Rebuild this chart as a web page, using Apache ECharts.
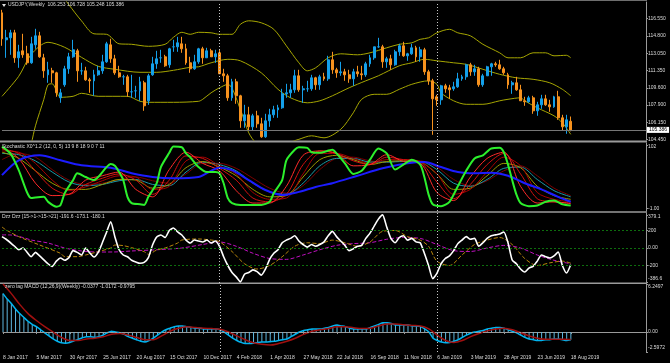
<!DOCTYPE html>
<html><head><meta charset="utf-8">
<script src="https://cdn.jsdelivr.net/npm/echarts@6/dist/echarts.min.js"></script>
<style>html,body{margin:0;padding:0;background:#000;}#c{width:670px;height:363px;}</style>
</head><body><div id="c"></div>
<script>
// ---------- weekly USDJPY candles (index 0 = week of 8 Jan 2017) ----------
const opens = [117.1,114.4,114.6,115.1,112.6,113.3,113.0,112.1,113.9,114.8,112.6,110.9,111.3,111.1,108.6,109.9,111.5,112.7,113.3,111.3,111.3,110.4,110.3,110.9,111.3,112.2,113.9,112.5,111.1,110.7,110.7,109.2,109.3,109.3,110.1,108.3,110.9,112.0,112.6,112.7,111.9,113.7,113.7,114.0,113.5,112.1,111.5,112.2,113.5,112.6,113.3,112.7,113.1,111.0,110.8,108.6,110.2,108.8,106.3,106.9,105.7,106.8,106.0,104.7,106.3,106.9,107.4,107.6,109.0,109.1,109.4,110.8,109.4,109.5,109.5,110.6,109.9,110.7,110.5,112.4,111.4,111.1,111.2,110.9,110.5,111.2,111.0,110.9,112.0,112.6,113.7,113.7,112.2,112.5,111.9,113.2,113.8,112.8,113.0,113.6,112.7,113.4,111.2,110.3,108.7,108.4,109.8,109.6,109.5,109.7,110.5,110.7,111.9,111.2,111.5,109.9,110.8,111.7,112.0,111.9,111.5,110.9,109.9,110.1,109.4,108.3,108.2,108.6,107.3,107.9,108.5,107.9,107.7,108.7,106.6,105.7,106.253];
const highs = [117.4,115.4,115.4,115.4,113.9,115.0,113.8,114.7,115.5,115.2,113.0,112.2,111.6,111.2,109.5,111.8,113.1,114.4,113.5,112.1,111.7,110.6,111.4,111.8,112.9,114.2,114.5,112.9,111.8,110.9,110.9,110.9,109.8,110.7,110.3,111.0,112.7,113.3,113.4,112.9,113.6,114.4,114.7,114.7,114.0,112.7,112.9,113.6,113.7,113.6,113.5,113.4,113.4,111.5,111.0,110.5,110.5,108.9,107.9,107.7,107.0,107.3,106.6,107.0,107.5,107.8,107.9,109.5,110.0,110.0,111.4,111.4,109.8,110.3,110.9,110.7,110.9,111.1,112.8,113.2,111.6,112.2,111.5,111.4,111.5,111.8,111.8,112.2,112.9,113.7,114.6,113.9,112.7,112.9,113.4,114.0,114.2,113.1,114.0,113.8,113.7,113.6,111.4,110.5,108.9,109.9,110.0,109.9,110.2,111.1,110.9,112.0,112.1,111.9,111.7,111.0,111.8,112.1,112.2,112.4,111.7,111.1,110.3,110.7,109.9,108.7,108.8,108.8,108.2,108.9,108.9,108.4,108.8,109.3,106.9,106.9,106.728];
const lows = [113.8,112.6,112.9,112.1,111.6,112.6,111.9,112.0,113.5,112.6,110.6,110.1,110.1,108.7,108.1,109.7,111.0,112.6,110.2,110.9,110.3,109.1,108.8,110.8,111.0,112.1,112.1,110.9,110.6,109.9,108.7,108.6,108.6,108.3,107.3,107.9,110.8,111.5,112.1,111.7,111.6,113.2,113.2,113.1,111.9,111.1,111.4,112.0,112.0,112.6,112.8,112.1,111.0,110.2,108.3,108.3,108.0,105.6,105.6,105.3,105.3,105.6,104.6,104.6,105.7,106.6,106.6,107.5,108.6,108.6,109.1,109.2,108.1,109.2,109.3,109.4,109.4,110.3,110.3,111.0,110.6,110.8,110.3,110.1,109.8,110.7,110.4,110.7,111.7,112.4,113.6,111.6,111.6,111.4,111.8,112.8,112.7,112.3,112.9,112.2,112.2,110.9,109.9,104.9,107.8,107.9,109.1,108.5,109.3,109.6,110.3,110.4,110.8,110.8,109.7,109.7,110.8,110.8,111.7,111.4,110.9,109.5,109.0,109.3,108.3,107.8,108.1,107.0,106.8,107.5,107.8,107.2,107.6,106.4,105.3,105.0,105.248];
const closes = [114.5,114.6,115.1,112.6,113.2,112.9,112.1,114.0,114.8,112.7,111.3,111.4,111.1,109.1,109.1,111.5,112.7,113.4,111.3,111.3,110.4,110.3,110.9,111.3,112.2,114.0,112.5,111.1,110.7,110.7,109.2,109.2,109.3,110.2,107.8,110.8,112.0,112.5,112.6,111.8,113.5,113.7,114.1,113.5,112.1,111.5,112.2,113.5,112.6,113.3,112.7,113.0,111.0,110.8,108.6,110.2,108.8,106.3,106.9,105.7,106.8,106.0,104.7,106.3,106.9,107.4,107.6,109.0,109.1,109.4,110.8,109.4,109.5,109.5,110.6,109.9,110.7,110.5,112.4,111.4,111.1,111.2,110.9,110.5,111.2,111.0,110.9,112.0,112.6,113.7,113.7,112.2,112.5,111.9,113.2,113.8,112.8,113.0,113.6,112.7,113.4,111.2,110.3,108.5,108.4,109.8,109.5,109.4,109.7,110.5,110.7,111.9,111.2,111.5,109.9,110.8,111.7,112.0,111.9,111.5,111.1,109.9,110.1,109.4,108.3,108.2,108.6,107.3,107.9,108.5,107.9,107.7,108.7,106.6,105.7,106.4,105.386];
const lastPrice = 105.386;

// x-axis tick labels (every 8 weeks)
const tickLabels = ['8 Jan 2017','5 Mar 2017','30 Apr 2017','25 Jun 2017','20 Aug 2017','15 Oct 2017','10 Dec 2017','4 Feb 2018','1 Apr 2018','27 May 2018','22 Jul 2018','16 Sep 2018','11 Nov 2018','6 Jan 2019','3 Mar 2019','28 Apr 2019','23 Jun 2019','18 Aug 2019'];
const yearSeparators = [52, 104];

// right-axis tick values
const priceTicks = [116.55,114.8,113.05,111.35,109.6,107.9,106.15,104.45];
const stochTicks = [102,-1];
const dzzTicks = [379.1,200,0,-200,-386.6];
const macdTicks = [6.2497,0,-2.5972];

// ---------- Bollinger bands ([bar, value]) ----------
const bbUpper = [[0,123.5],[5,122.3],[10,120.6],[14,119.0],[16,117.9],[19,116.3],[22,115.0],[25,114.95],[28,114.0],[31,113.95],[35,113.75],[39,113.95],[41,114.65],[43,115.15],[45,114.95],[47,115.15],[50,115.1],[52,114.95],[55,114.95],[57,115.95],[59,116.3],[62,116.1],[65,115.45],[68,113.8],[71,112.1],[73,111.3],[75,111.6],[78,112.6],[81,113.0],[85,112.9],[88,113.1],[92,113.6],[95,113.95],[98,114.1],[100,114.45],[102,114.6],[104,115.1],[107,115.45],[109,115.1],[112,114.8],[115,113.95],[119,113.1],[121,112.6],[124,112.6],[127,113.1],[130,113.1],[132,112.8],[135,112.85],[136,112.6]];
const bbMiddle = [[0,108.75],[4,110.75],[7,112.95],[11,114.15],[15,113.65],[19,112.65],[23,111.75],[27,111.45],[33,111.15],[37,111.15],[41,111.35],[45,111.65],[47,111.7],[50,112.1],[54,112.45],[57,112.3],[62,111.1],[66,109.45],[69,108.6],[73,108.1],[76,108.3],[79,108.8],[83,109.6],[87,110.3],[90,110.8],[95,111.8],[98,112.1],[101,112.45],[104,112.3],[108,112.1],[111,111.95],[115,111.45],[119,110.95],[123,110.6],[127,110.45],[131,110.1],[134,109.45],[136,108.8]];
const bbLower = [[0,96.5],[4,99.8],[6,102.5],[7,104.0],[8,105.8],[10,108.45],[11,109.9],[12,110.0],[14,108.65],[17,108.75],[19,109.05],[23,108.75],[30,108.75],[33,108.25],[35,108.15],[41,108.15],[47,108.25],[48,108.45],[50,109.1],[52,109.6],[54,109.95],[57,107.45],[59,105.1],[61,104.0],[64,103.5],[67,103.9],[71,104.45],[74,104.8],[77,104.6],[81,105.45],[84,107.1],[86,108.45],[89,108.95],[92,108.95],[95,109.45],[98,109.95],[102,110.3],[104,109.95],[105,109.1],[108,108.3],[111,107.95],[115,107.95],[119,108.3],[121,108.45],[124,108.6],[125,108.3],[128,107.6],[132,106.8],[134,106.1],[136,104.95]];

// ---------- Stochastic X lines ----------
const stochFast = [[0,99],[2,88],[4,61],[6,25],[7,16],[8,17],[10,18],[11,10],[13,2],[14,5],[15,24],[17,45],[18,56],[20,50],[22,45],[23,50],[25,66],[26,71],[27,68],[28,58],[29,45],[30,18],[31,8],[33,6],[34,5],[35,18],[37,40],[38,66],[40,89],[41,99],[43,98],[44,88],[45,82],[47,66],[49,58],[51,58],[52,56],[53,40],[54,16],[55,8],[57,5],[60,5],[62,5],[64,10],[65,24],[67,45],[68,77],[70,94],[71,98],[73,97],[74,90],[76,89],[79,94],[80,88],[82,72],[84,55],[86,60],[88,78],[90,96],[92,88],[94,62],[96,70],[98,78],[100,70],[101,50],[102,22],[103,6],[105,3],[107,10],[109,35],[111,60],[113,80],[115,85],[117,96],[119,97],[120,90],[121,70],[122,45],[123,22],[124,8],[126,3],[128,4],[130,10],[132,12],[134,6],[136,4]];
const stochSlow = [[0,53],[4,77],[9,85],[14,77],[19,69],[26,65],[31,56],[36,50],[41,48],[47,50],[52,65],[55,61],[59,45],[63,29],[67,21],[71,26],[75,34],[79,40],[85,52],[91,64],[97,72],[101,74],[105,66],[109,58],[113,56],[117,57],[121,52],[125,40],[129,30],[133,18],[136,10]];
// intermediate lines, one value every 4 bars (bars 0,4,...,136)
const stochRed1  = [97,80,40,20,22,45,52,58,30,18,62,90,72,60,28,8,8,35,85,92,88,68,70,86,75,72,25,12,50,80,90,35,8,10,7];
const stochRed2  = [95,88,60,32,22,38,48,55,45,22,45,84,80,64,45,16,10,22,70,92,88,76,70,82,78,74,42,15,38,70,88,55,15,10,8];
const stochRed3  = [92,90,72,45,28,34,44,52,50,30,35,76,82,68,55,25,14,16,55,88,88,80,72,78,78,75,55,22,30,58,82,68,25,14,10];
const stochRed4  = [78,88,82,62,45,38,40,46,50,44,40,55,72,72,64,48,32,24,36,62,80,82,76,74,76,76,66,46,36,44,60,68,52,32,20];
const stochOlive = [90,80,60,40,30,30,38,46,45,32,38,65,75,66,52,30,18,20,50,78,85,78,70,75,76,74,55,30,32,52,72,65,35,20,14];
const stochTeal  = [88,86,76,58,42,36,38,44,46,38,36,58,74,70,60,40,26,22,40,68,80,80,74,74,75,75,62,40,35,46,64,66,46,28,18];

// ---------- Dzz panel ----------
const dzzMain = [[0,130],[1,100],[3,20],[4,-20],[5,0],[7,-100],[8,-50],[9,-90],[11,-180],[12,-210],[13,-150],[14,-114],[15,-140],[16,-110],[17,-30],[18,-50],[19,-80],[20,0],[21,-57],[22,-103],[23,-50],[24,60],[25,180],[26,300],[27,126],[28,-20],[29,-80],[30,-100],[31,-140],[32,-160],[33,-175],[34,-165],[35,-110],[36,34],[37,126],[38,149],[39,120],[40,200],[41,229],[42,183],[43,149],[44,90],[45,57],[46,91],[47,80],[48,69],[49,91],[50,57],[51,80],[52,20],[53,-100],[54,-200],[55,-280],[56,-330],[57,-386.6],[58,-300],[59,-280],[60,-250],[61,-270],[62,-310],[63,-240],[64,-130],[65,-60],[66,-20],[67,60],[68,90],[69,110],[70,140],[71,80],[72,40],[73,10],[74,40],[75,20],[76,40],[77,70],[78,140],[79,190],[80,130],[81,80],[82,30],[83,-30],[84,-10],[85,20],[86,30],[87,110],[88,170],[89,250],[90,330],[91,379.1],[92,240],[93,110],[94,60],[95,120],[96,140],[97,90],[98,110],[99,70],[100,60],[101,-60],[102,-200],[103,-350],[104,-290],[105,-180],[106,-120],[107,-90],[108,-30],[109,50],[110,90],[111,130],[112,100],[113,110],[114,20],[115,60],[116,110],[117,140],[118,150],[119,160],[120,183],[121,60],[122,-137],[123,-180],[124,-240],[125,-274],[126,-230],[127,-210],[128,-150],[129,-80],[130,-100],[131,-114],[132,-90],[133,-46],[134,-200],[135,-286],[136,-191.6]];
const dzzMid = [[0,240],[1,206],[4,130],[9,34],[14,-61],[15,-99],[18,-99],[20,-80],[23,-42],[26,0],[27,34],[29,27],[31,4],[34,-42],[35,-72],[37,-23],[39,0],[42,57],[43,91],[47,103],[50,91],[52,72],[55,-40],[58,-180],[61,-240],[64,-200],[67,-100],[70,20],[73,60],[76,50],[79,90],[82,60],[85,20],[88,70],[91,190],[94,200],[97,130],[100,90],[102,20],[104,-150],[107,-200],[110,-80],[113,40],[116,90],[119,120],[122,40],[125,-120],[128,-200],[131,-170],[134,-150],[136,-173.1]];
const dzzSlow = [[0,150],[2,149],[5,120],[7,91],[11,57],[15,0],[19,-34],[23,-46],[27,-45],[31,-34],[37,-20],[43,0],[48,40],[52,69],[56,20],[60,-60],[64,-120],[68,-130],[72,-80],[76,-20],[80,30],[84,50],[88,60],[92,100],[96,120],[100,110],[104,40],[108,-30],[112,-40],[116,0],[120,30],[124,0],[128,-80],[132,-140],[136,-180.1]];
const dzzLevels = [200, 0, -200];

// ---------- zero lag MACD ----------
const macdMain = [5.0,4.3,3.7,3.0,2.4,1.9,1.4,1.0,0.7,0.3,-0.1,
 -0.5,-0.9,-1.2,-1.4,-1.45,-1.35,-1.15,-0.95,-0.75,-0.6,
 -0.6,-0.7,-0.6,-0.4,-0.1,0.1,0.0,-0.1,-0.3,-0.6,
 -0.8,-1.0,-1.2,-1.3,-1.1,-0.8,-0.4,0.0,0.3,0.5,
 0.7,0.8,0.8,0.7,0.6,0.5,0.5,0.4,0.4,0.4,
 0.4,0.3,0.0,-0.4,-0.8,-1.1,-1.35,-1.5,-1.5,-1.45,
 -1.35,-1.3,-1.3,-1.25,-1.2,-1.1,-1.0,-0.9,-0.6,-0.3,
 0.0,0.2,0.3,0.4,0.4,0.4,0.5,0.6,0.8,0.9,
 0.8,0.7,0.5,0.4,0.4,0.4,0.4,0.6,0.8,1.0,
 1.2,1.2,1.1,0.9,0.9,0.9,0.9,0.8,0.8,0.7,
 0.4,0.0,-0.8,-1.1,-1.3,-1.4,-1.35,-1.2,-1.0,-0.7,
 -0.4,-0.15,0.0,0.1,0.2,0.4,0.5,0.6,0.6,0.5,
 0.3,0.1,-0.1,-0.4,-0.7,-0.9,-1.0,-1.1,-1.1,-1.0,
 -1.0,-0.9,-0.9,-1.0,-1.1,-1.0172];
const macdSignal = [[0,6.2497],[2,5.0],[4,3.6],[6,2.4],[8,1.5],[10,0.7],[12,0.0],[14,-0.7],[16,-1.1],[18,-1.1],[20,-0.9],[22,-0.8],[24,-0.6],[26,-0.3],[28,-0.2],[30,-0.4],[32,-0.7],[34,-1.0],[36,-1.0],[38,-0.5],[40,0.1],[42,0.5],[44,0.7],[46,0.6],[48,0.5],[50,0.45],[52,0.35],[54,0.0],[56,-0.5],[58,-1.0],[60,-1.4],[62,-1.6],[64,-1.7],[66,-1.5],[68,-1.2],[70,-0.8],[72,-0.3],[74,0.1],[76,0.3],[78,0.45],[80,0.7],[82,0.7],[84,0.55],[86,0.45],[88,0.5],[90,0.8],[92,1.05],[94,1.05],[96,0.95],[98,0.85],[100,0.8],[102,0.4],[104,-0.4],[106,-1.1],[108,-1.35],[110,-1.1],[112,-0.6],[114,-0.2],[116,0.15],[118,0.4],[120,0.5],[122,0.3],[124,-0.1],[126,-0.5],[128,-0.8],[130,-0.95],[132,-0.95],[134,-0.95],[136,-0.9795]];

// ---------- build chart ----------
const N = 155; // bar slots incl. right-hand chart shift
const cats = Array.from({length: N}, (_, i) => String(i));
const FONT = 'Liberation Sans';
const LBL = '#dcdcdc';
const AX = '#9a9a9a';
const FS = 5;
const every4 = vals => vals.map((v, i) => [i * 4, v]);
const tickShown = i => i % 8 === 0 && i <= 136;

const grids = [
  {left: 2, right: 24, top: 2, height: 138},
  {left: 2, right: 24, top: 143, height: 68},
  {left: 2, right: 24, top: 213, height: 70},
  {left: 2, right: 24, top: 284, height: 68}
];
const xAxes = grids.map((g, i) => ({
  type: 'category', gridIndex: i, data: cats, boundaryGap: false,
  axisLine: {show: i === 3, lineStyle: {color: AX}},
  axisTick: {show: i === 3, interval: tickShown, length: 2, lineStyle: {color: AX}},
  axisLabel: {show: i === 3, interval: tickShown, formatter: (v, idx) => tickLabels[Math.round(Number(v) / 8)],
    align: 'left', fontSize: FS, color: LBL, margin: 3, fontFamily: FONT},
  splitLine: {show: false}
}));
const richBase = {fontSize: FS, color: LBL, fontFamily: FONT};
const rich = {
  n: Object.assign({}, richBase),
  d1: Object.assign({padding: [3, 0, 0, 0]}, richBase),
  d3: Object.assign({padding: [6, 0, 0, 0]}, richBase),
  u3: Object.assign({padding: [0, 0, 6, 0]}, richBase),
  u4: Object.assign({padding: [0, 0, 8, 0]}, richBase)
};
function yAx(i, min, max, ticks, fmt) {
  return {
    type: 'value', gridIndex: i, position: 'right', min: min, max: max, scale: true,
    axisLine: {show: true, lineStyle: {color: AX}},
    axisTick: {show: true, length: 2, customValues: ticks, lineStyle: {color: AX}},
    axisLabel: {customValues: ticks, formatter: fmt, fontSize: FS, color: LBL, margin: 2, fontFamily: FONT, rich: rich},
    splitLine: {show: false}
  };
}
const yAxes = [
  yAx(0, 104.38, 118.18, priceTicks, v => v.toFixed(3)),
  yAx(1, -4.84, 104.84, stochTicks, v => v === -1 ? '{n|-1.00}' : '{d1|' + v + '}'),
  yAx(2, -400, 400, dzzTicks, v => v === 0 ? '0.00' : v === 379.1 ? '{d1|379.1}' : v === -386.6 ? '{u3|-386.6}' : String(v)),
  yAx(3, -2.5972, 6.2497, macdTicks, v => v === 0 ? '0.00' : v > 0 ? '{d3|' + v + '}' : '{u4|' + v + '}')
];

const sepLine = (i) => ({
  silent: true, symbol: ['none', 'none'], animation: false,
  label: {show: false},
  lineStyle: {color: '#c8c8c8', type: [1, 2], width: 1},
  data: yearSeparators.map(x => ({xAxis: String(x)}))
});

function line(i, data, color, width, extra) {
  return Object.assign({
    type: 'line', xAxisIndex: i, yAxisIndex: i, data: data, smooth: 0.3,
    symbol: 'none', clip: true, lineStyle: {color: color, width: width}, z: 3
  }, extra || {});
}

const candleData = opens.map((o, i) => [o, closes[i], lows[i], highs[i]]);
const BULL = '#14a0ea', BEAR = '#f7921e';

const priceMark = sepLine(0);
priceMark.data = priceMark.data.concat([{
  yAxis: lastPrice,
  lineStyle: {color: '#767676', type: 'solid', width: 1},
  label: {show: true, position: 'end', distance: 1, formatter: lastPrice.toFixed(3),
    backgroundColor: '#ffffff', color: '#000', fontSize: FS, padding: [1, 2, 0, 2], fontFamily: FONT}
}]);

const series = [
  {type: 'candlestick', xAxisIndex: 0, yAxisIndex: 0, data: candleData, barWidth: 2.4, clip: true,
   itemStyle: {color: BULL, color0: BEAR, borderColor: BULL, borderColor0: BEAR, borderWidth: 1},
   markLine: priceMark, z: 4},
  line(0, bbUpper, '#a6a600', 1),
  line(0, bbMiddle, '#a6a600', 1),
  line(0, bbLower, '#a6a600', 1),
  // stochastic
  line(1, every4(stochRed4), '#7a0000', 1, {markLine: sepLine(1)}),
  line(1, every4(stochTeal), '#1a9aa8', 1),
  line(1, every4(stochOlive), '#9a9a00', 1),
  line(1, every4(stochRed3), '#a80000', 1),
  line(1, every4(stochRed2), '#d21010', 1),
  line(1, every4(stochRed1), '#ff2a2a', 1),
  line(1, stochSlow, '#1c1cff', 2),
  line(1, stochFast, '#2cf02c', 2, {smooth: 0.25}),
  // dzz
  line(2, dzzSlow, '#c010c0', 1, {lineStyle: {color: '#c010c0', width: 1, type: [4, 2]},
    markLine: sepLine(2)}),
  {type: 'line', xAxisIndex: 2, yAxisIndex: 2, data: [], markLine: {
    silent: true, symbol: ['none', 'none'], label: {show: false},
    lineStyle: {color: '#0d6e0d', type: [2, 2], width: 1},
    data: dzzLevels.map(v => ({yAxis: v}))}},
  line(2, dzzMid, '#b8860b', 1, {lineStyle: {color: '#b8860b', width: 1, type: [4, 2]}}),
  line(2, dzzMain, '#ffffff', 1.6, {smooth: 0.2}),
  // macd
  {type: 'bar', xAxisIndex: 3, yAxisIndex: 3, data: macdMain, barWidth: 1,
   itemStyle: {color: '#5fb6de'}, markLine: (() => {
     const m = sepLine(3);
     m.data = m.data.concat([{yAxis: 0, lineStyle: {color: '#9a9a9a', type: [2, 2], width: 1}}]);
     return m; })()},
  line(3, macdMain.map((v, i) => [i, v]), '#00b4f0', 1.5, {smooth: 0.2}),
  line(3, macdSignal, '#a01010', 1.5)
];
const whiteIdx = series.findIndex(s => s.data === dzzMain);

const titleStyle = {color: LBL, fontSize: FS, fontWeight: 'normal', fontFamily: FONT};
const option = {
  backgroundColor: '#000',
  animation: false,
  textStyle: {fontFamily: FONT},
  title: [
    {text: 'USDJPY,Weekly  106.253 106.728 105.248 105.386', left: 8, top: 2.5, padding: 0, textStyle: titleStyle},
    {text: 'Stochastic X0^1.2 (12, 0, 5) 13 9 8 18 9 0 7 11', left: 2, top: 144, padding: 0, textStyle: titleStyle},
    {text: 'Dzz Dzz [15->1->15->21] -191.6 -173.1 -180.1', left: 2, top: 214.5, padding: 0, textStyle: titleStyle},
    {text: 'zero lag MACD (12,26,9)(Weekly) -0.0377 -1.0172 -0.9795', left: 5, top: 284.5, padding: 0, textStyle: titleStyle}
  ],
  grid: grids,
  xAxis: xAxes,
  yAxis: yAxes,
  visualMap: [{
    show: false, type: 'piecewise', seriesIndex: whiteIdx, dimension: 1,
    pieces: [{lt: -200, color: '#1a1aff'}, {gte: -200, lte: 300, color: '#ffffff'}, {gt: 300, color: '#ff1414'}]
  }],
  graphic: [
    {type: 'rect', shape: {x: 0, y: 0, width: 647, height: 1}, style: {fill: '#6e6e6e'}, silent: true},
    {type: 'rect', shape: {x: 0, y: 140.6, width: 647, height: 1.8}, style: {fill: '#9a9a9a'}, silent: true},
    {type: 'rect', shape: {x: 0, y: 211.2, width: 647, height: 1.6}, style: {fill: '#9a9a9a'}, silent: true},
    {type: 'rect', shape: {x: 0, y: 282.6, width: 647, height: 1.4}, style: {fill: '#9a9a9a'}, silent: true},
    {type: 'polygon', shape: {points: [[2, 4], [6, 4], [4, 7]]}, style: {fill: '#e0e0e0'}, silent: true}
  ],
  series: series
};
const chart = echarts.init(document.getElementById('c'), null, {renderer: 'canvas'});
chart.setOption(option);
</script></body></html>
